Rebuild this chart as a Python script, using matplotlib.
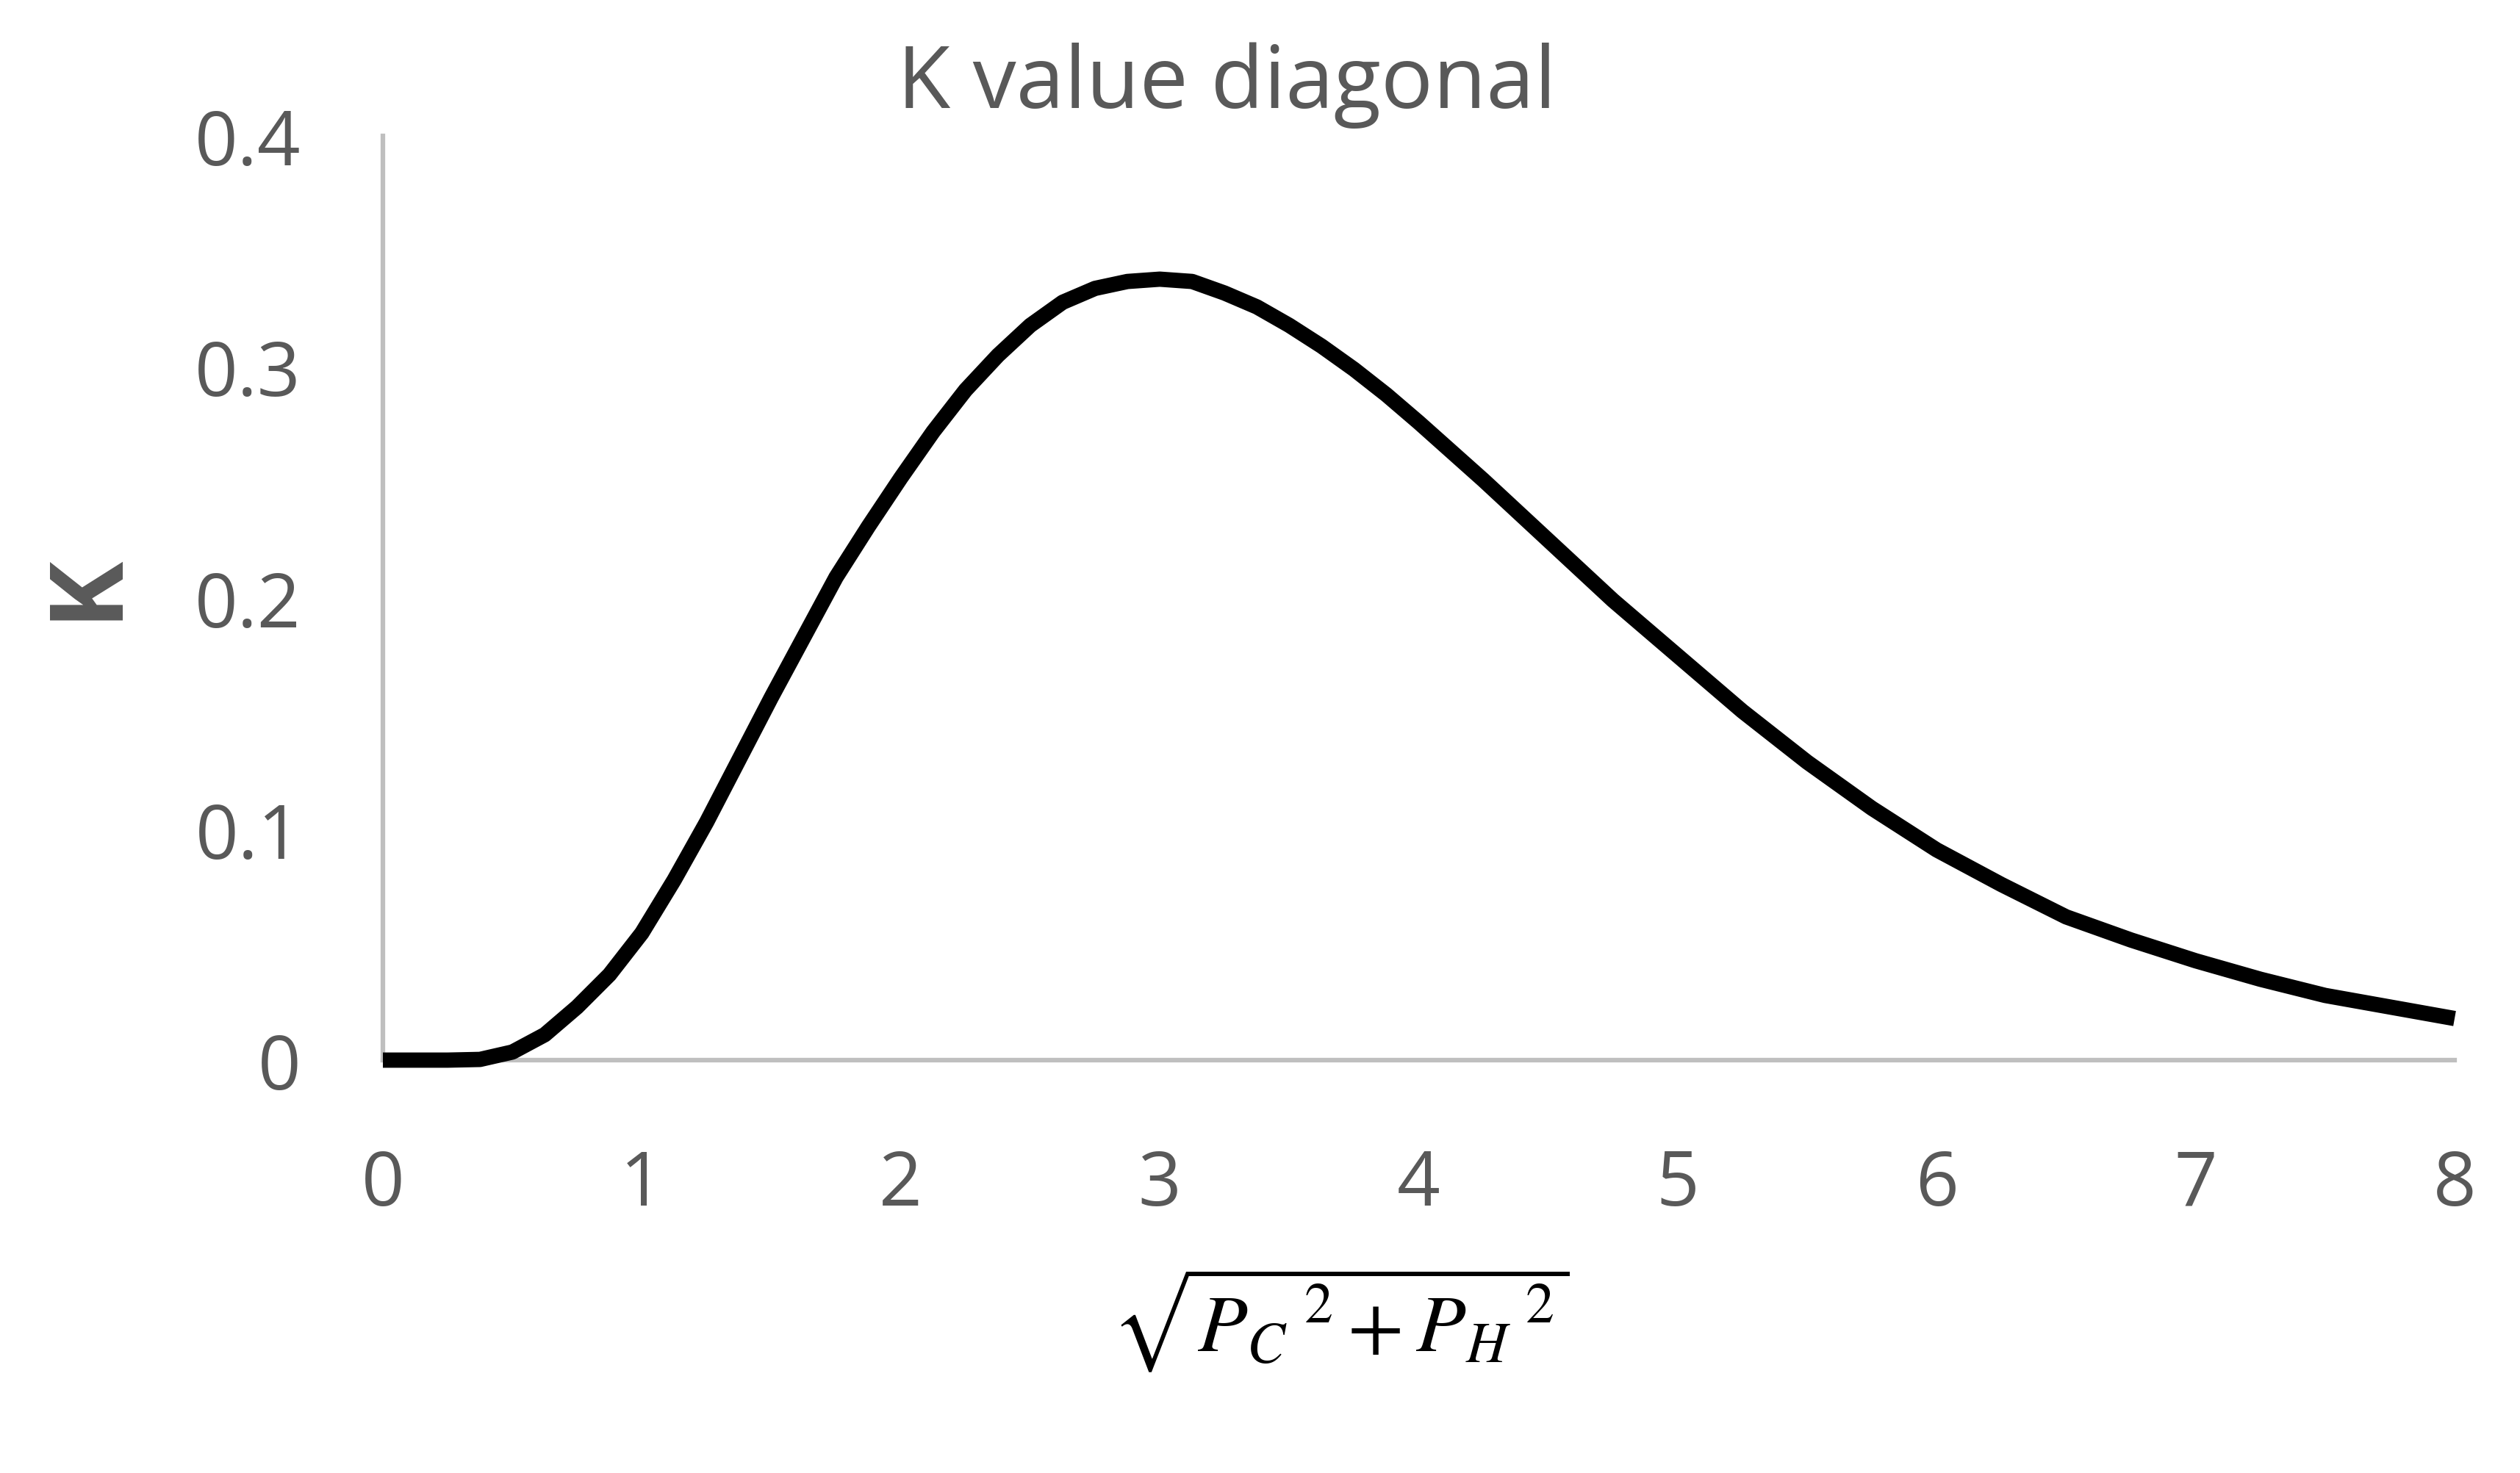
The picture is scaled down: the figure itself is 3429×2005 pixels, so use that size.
import matplotlib.pyplot as plt

# values
r_values = [0.0, 0.25, 0.375, 0.5, 0.625, 0.75, 0.875, 1.0, 1.125, 1.25, 1.375, 1.5, 1.625,
            1.75, 1.875, 2.0, 2.125, 2.25, 2.375, 2.5, 2.625, 2.75, 2.875, 3.0, 3.125,
            3.25, 3.375, 3.5, 3.625, 3.75, 3.875, 4.0, 4.25, 4.5, 4.75, 5.0, 5.25,
            5.5, 5.75, 6.0, 6.25, 6.5, 6.75, 7.0, 7.25, 7.5, 7.75, 8.0]
k_values = [0.0, 0.0, 0.0003, 0.0035, 0.011, 0.023, 0.037, 0.055, 0.078, 0.103, 0.130, 0.157, 0.183,
            0.209, 0.231, 0.252, 0.272, 0.290, 0.305, 0.318, 0.328, 0.334, 0.337, 0.338, 0.337,
            0.332, 0.326, 0.318, 0.309, 0.299, 0.288, 0.276, 0.251, 0.225, 0.199, 0.175, 0.151,
            0.129, 0.109, 0.091, 0.076, 0.062, 0.052, 0.043, 0.035, 0.028, 0.023, 0.018]
x_ticks = [0, 1, 2, 3, 4, 5, 6, 7, 8]
y_ticks = [0, 0.1, 0.2, 0.3, 0.4]
y_labels = ['0', '0.1', '0.2', '0.3', '0.4']

grey = '#595959'
plt.rcParams['font.family'] = ['Open Sans', 'DejaVu Sans']
plt.rcParams['mathtext.fontset'] = 'stix'

fig = plt.figure(figsize=(34.3, 20.06), dpi=100)
ax = fig.add_axes([521 / 3430, 1 - 1444 / 2006, (3340 - 521) / 3430, (1444 - 186) / 2006])

ax.plot(r_values, k_values, color='black', linewidth=15, solid_capstyle='butt',
        solid_joinstyle='round', clip_on=False, zorder=5)

ax.set_xlim(0, 8)
ax.set_ylim(0, 0.4)
ax.set_xticks(x_ticks)
ax.set_yticks(y_ticks)
ax.set_yticklabels(y_labels)
ax.tick_params(axis='both', length=0, labelsize=74, labelcolor=grey)
ax.tick_params(axis='x', pad=86)
ax.tick_params(axis='y', pad=80)

for s in ['top', 'right']:
    ax.spines[s].set_visible(False)
for s in ['left', 'bottom']:
    ax.spines[s].set_color('#bfbfbf')
    ax.spines[s].set_linewidth(4.5)

fig.text(1669 / 3430, 1 - 147 / 2006, 'K value diagonal', ha='center', va='baseline',
         fontsize=85, color=grey)
fig.text(120 / 3430, 1 - 798 / 2006, 'K', rotation=90, ha='center', va='center',
         fontsize=100, fontweight='bold', color=grey)
fig.text(1824 / 3430, 1 - 1840 / 2006, r'$\sqrt{{P_C}^{\ 2}+{P_H}^{\ 2}}$', ha='center',
         va='baseline', fontsize=80, color='black')

fig.savefig('out.png', dpi=100, facecolor='white')
